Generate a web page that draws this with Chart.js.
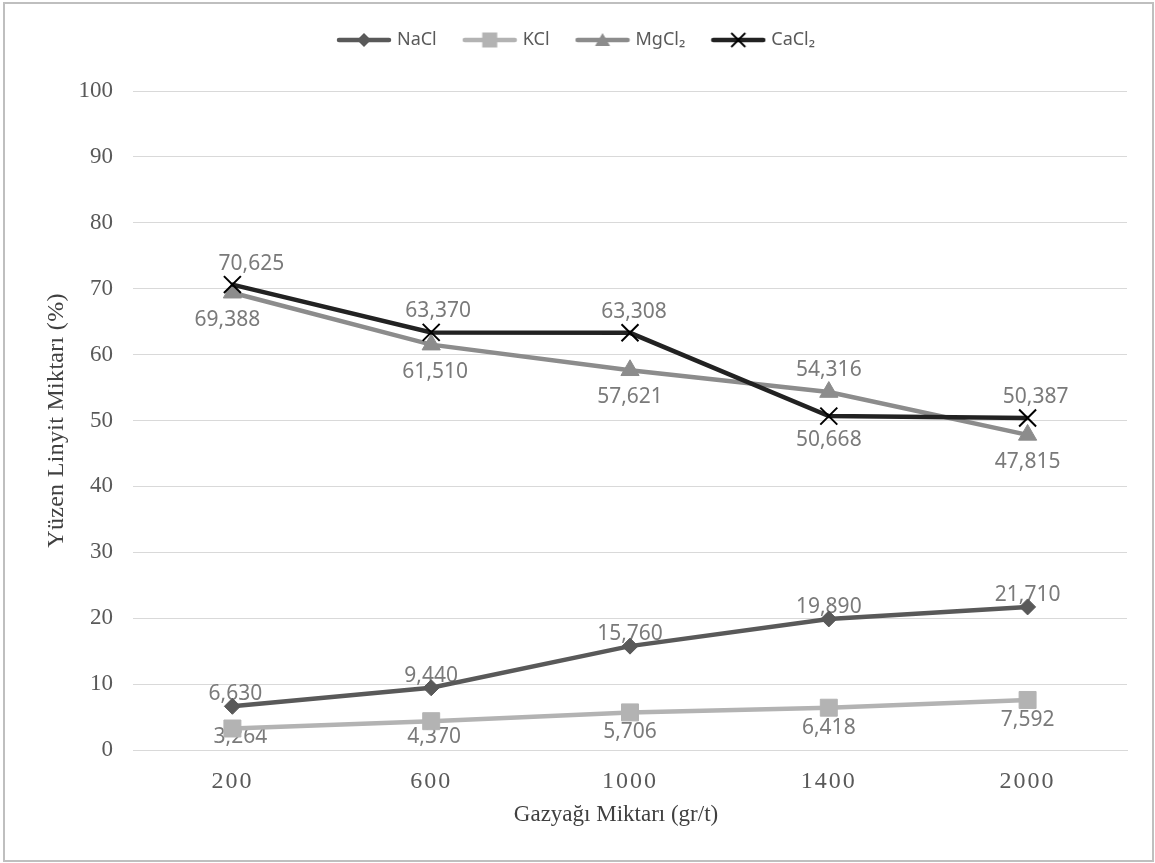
<!DOCTYPE html>
<html><head><meta charset="utf-8">
<script src="https://cdn.jsdelivr.net/npm/chart.js@4.4.0/dist/chart.umd.min.js"></script>
<style>html,body{margin:0;padding:0;background:#fff;} #wrap{position:relative;width:1155px;height:863px;}</style>
</head><body><div id="wrap"><canvas id="c" width="1155" height="863"></canvas></div>
<script>
// ---- data ----
const categories = ['200', '600', '1000', '1400', '2000'];
const seriesNames = ['NaCl', 'KCl', 'MgCl₂', 'CaCl₂'];
const nacl  = [6.630, 9.440, 15.760, 19.890, 21.710];
const kcl   = [3.264, 4.370, 5.706, 6.418, 7.592];
const mgcl2 = [69.388, 61.510, 57.621, 54.316, 47.815];
const cacl2 = [70.625, 63.370, 63.308, 50.668, 50.387];
const yTicks = [0, 10, 20, 30, 40, 50, 60, 70, 80, 90, 100];
const xTitle = 'Gazyağı Miktarı (gr/t)';
const yTitle = 'Yüzen Linyit Miktarı (%)';

// label placement per point (above / below the marker)
const labelPlacement = [
  ['above', 'above', 'above', 'above', 'above'],
  ['below', 'below', 'below', 'below', 'below'],
  ['below', 'below', 'below', 'above', 'below'],
  ['above', 'above', 'above', 'below', 'above']
];
// small horizontal nudges of individual labels (px)
const labelNudgeX = [
  [3, 0, 0, 0, 0],
  [8, 3, 0, 0, 0],
  [-5, 4, 0, 0, 0],
  [19, 7, 4, 0, 8]
];

// ---- styles ----
const styles = [
  { color: '#595959', pointStyle: 'rectRot',  radius: 8,    bw: 1, above: -12, below: 20 },
  { color: '#b3b3b3', pointStyle: 'rect',     radius: 12,   bw: 1, above: -20, below: 20 },
  { color: '#8c8c8c', pointStyle: 'triangle', radius: 10.5, bw: 1, above: -22, below: 27 },
  { color: '#222222', pointStyle: 'crossRot', radius: 12,   bw: 2, above: -21, below: 24 }
];
const seriesData = [nacl, kcl, mgcl2, cacl2];

function legendIcon(st) {
  const c = document.createElement('canvas');
  c.width = 56; c.height = 20;
  const g = c.getContext('2d');
  g.strokeStyle = st.color; g.lineWidth = 4.5; g.lineCap = 'round';
  g.beginPath(); g.moveTo(3, 10); g.lineTo(53, 10); g.stroke();
  const cx = 28, cy = 10;
  g.fillStyle = st.color;
  if (st.pointStyle === 'rectRot') {
    g.beginPath(); g.moveTo(cx, cy - 7); g.lineTo(cx + 7, cy); g.lineTo(cx, cy + 7); g.lineTo(cx - 7, cy); g.closePath(); g.fill();
  } else if (st.pointStyle === 'rect') {
    g.fillRect(cx - 7.5, cy - 7.5, 15, 15);
  } else if (st.pointStyle === 'triangle') {
    g.beginPath(); g.moveTo(cx, cy - 7); g.lineTo(cx + 7.5, cy + 6); g.lineTo(cx - 7.5, cy + 6); g.closePath(); g.fill();
  } else {
    g.strokeStyle = '#000'; g.lineWidth = 1.8; g.lineCap = 'butt';
    g.beginPath(); g.moveTo(cx - 7, cy - 7); g.lineTo(cx + 7, cy + 7); g.moveTo(cx + 7, cy - 7); g.lineTo(cx - 7, cy + 7); g.stroke();
  }
  return c;
}
const legendIcons = styles.map(legendIcon);

function fmt(v) { return v.toFixed(3).replace('.', ','); }

// letter spacing / small shifts for scale text
const SCALE_TEXT = {
  x: { ticks: '2px', title: '0px', titleDx: -14 },
  y: { ticks: '0px', title: '0.3px', titleDx: 0 }
};
const SP = Chart.Scale.prototype;
const origDrawLabels = SP.drawLabels;
const origDrawTitle = SP.drawTitle;
SP.drawLabels = function (a) {
  const c = this.ctx; c.save();
  c.letterSpacing = (SCALE_TEXT[this.id] || {}).ticks || '0px';
  origDrawLabels.call(this, a); c.restore();
};
SP.drawTitle = function (a) {
  const c = this.ctx; c.save();
  const cfg = SCALE_TEXT[this.id] || {};
  c.letterSpacing = cfg.title || '0px';
  c.translate(cfg.titleDx || 0, 0);
  origDrawTitle.call(this, a); c.restore();
};

const borderPlugin = {
  id: 'frame',
  beforeDraw(chart) {
    const ctx = chart.ctx; ctx.save();
    ctx.fillStyle = '#fff'; ctx.fillRect(0, 0, chart.width, chart.height);
    ctx.strokeStyle = '#bfbfbf'; ctx.lineWidth = 2;
    ctx.strokeRect(4, 3, 1149, 858);
    ctx.restore();
  }
};

const legendSpacer = {
  id: 'legendSpacer',
  beforeLayout(chart) {
    const lg = chart.legend;
    if (lg && !lg.__patched) {
      const f = lg.fit;
      lg.fit = function () { f.apply(this, arguments); this.height += 32; };
      lg.__patched = true;
    }
  }
};

const valueLabels = {
  id: 'valueLabels',
  beforeDatasetsDraw(chart) {
    const ctx = chart.ctx; ctx.save();
    ctx.font = '21px "Noto Sans"';
    ctx.fillStyle = '#7a7a7a';
    ctx.textAlign = 'center'; ctx.textBaseline = 'middle';
    chart.data.datasets.forEach((ds, i) => {
      const meta = chart.getDatasetMeta(i);
      const st = styles[i];
      meta.data.forEach((pt, j) => {
        let y = pt.y + (labelPlacement[i][j] === 'above' ? st.above : st.below);
        y = Math.min(y, chart.chartArea.bottom - 13);
        ctx.fillText(fmt(ds.data[j]), pt.x + labelNudgeX[i][j], y);
      });
    });
    ctx.restore();
  }
};

const datasets = seriesData.map((d, i) => ({
  label: seriesNames[i],
  data: d,
  borderColor: styles[i].color,
  backgroundColor: styles[i].color,
  borderWidth: 4.5,
  pointStyle: styles[i].pointStyle,
  pointRadius: styles[i].radius,
  pointHoverRadius: styles[i].radius,
  pointBackgroundColor: i === 3 ? '#000' : styles[i].color,
  pointBorderColor: i === 3 ? '#000' : styles[i].color,
  pointBorderWidth: styles[i].bw,
  tension: 0,
  order: 3 - i
}));

const serif = '"Liberation Serif", "Times New Roman", serif';

new Chart(document.getElementById('c'), {
  type: 'line',
  data: { labels: categories, datasets },
  options: {
    responsive: false,
    animation: false,
    layout: { padding: { top: 2, left: 28, right: 28, bottom: 20 } },
    plugins: {
      tooltip: { enabled: false },
      legend: {
        position: 'top',
        labels: {
          usePointStyle: true,
          pointStyleWidth: 48,
          padding: 29,
          color: '#595959',
          font: { family: '"Noto Sans"', size: 18 },
          generateLabels(chart) {
            return chart.data.datasets.map((ds, i) => ({
              text: ds.label, fillStyle: styles[i].color, strokeStyle: styles[i].color,
              lineWidth: 0, pointStyle: legendIcons[i], hidden: false, datasetIndex: i,
              fontColor: '#595959'
            }));
          }
        }
      }
    },
    scales: {
      x: {
        type: 'category',
        offset: true,
        grid: { display: false, drawTicks: false },
        border: { display: true, color: '#d9d9d9', width: 1 },
        ticks: { font: { family: serif, size: 24 }, color: '#595959', padding: 17, maxRotation: 0 },
        title: { display: true, text: xTitle, font: { family: serif, size: 23 }, color: '#404040', padding: { top: 0, bottom: 14 } },
        afterFit(s) { s.height = 93; }
      },
      y: {
        min: 0, max: 100,
        afterBuildTicks(s) { s.ticks = yTicks.map(v => ({ value: v })); },
        grid: { color: '#d9d9d9', lineWidth: 1, drawTicks: false },
        border: { display: false },
        ticks: { font: { family: serif, size: 23 }, color: '#595959', padding: 20 },
        title: { display: true, text: yTitle, font: { family: serif, size: 24 }, color: '#404040', padding: { top: 14, bottom: 0 } },
        afterFit(s) { s.width = 105; }
      }
    }
  },
  plugins: [borderPlugin, legendSpacer, valueLabels]
});
</script>
</body></html>
